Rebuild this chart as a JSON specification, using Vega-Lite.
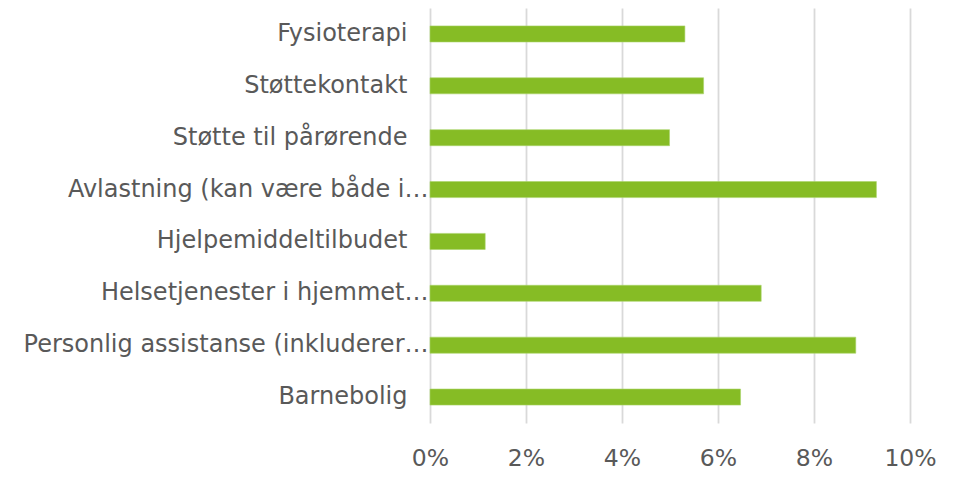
{
  "$schema": "https://vega.github.io/schema/vega-lite/v6.json",
  "width": 480,
  "height": 415,
  "autosize": {"type": "none"},
  "padding": {"left": 430, "top": 8, "right": 45, "bottom": 56},
  "background": "white",
  "config": {
    "view": {"stroke": null},
    "font": "DejaVu Sans"
  },
  "data": {
    "values": [
      {"kategori": "Fysioterapi", "andel": 0.0531},
      {"kategori": "Støttekontakt", "andel": 0.0570},
      {"kategori": "Støtte til pårørende", "andel": 0.0499},
      {"kategori": "Avlastning (kan være både i…", "andel": 0.0930},
      {"kategori": "Hjelpemiddeltilbudet", "andel": 0.0115},
      {"kategori": "Helsetjenester i hjemmet…", "andel": 0.0690},
      {"kategori": "Personlig assistanse (inkluderer…", "andel": 0.0887},
      {"kategori": "Barnebolig", "andel": 0.0647}
    ]
  },
  "mark": {"type": "bar", "color": "#86bc25", "stroke": "#a9d46a", "strokeWidth": 0.6},
  "encoding": {
    "y": {
      "field": "kategori",
      "type": "nominal",
      "sort": null,
      "scale": {"paddingInner": 0.69, "paddingOuter": 0.345},
      "axis": {
        "title": null,
        "domain": false,
        "ticks": false,
        "grid": false,
        "labelFont": "DejaVu Sans",
        "labelFontSize": 24,
        "labelColor": "#595959",
        "labelLimit": 500,
        "labelPadding": {"condition": {"test": "indexof(datum.value, '…') >= 0", "value": 2}, "value": 23}
      }
    },
    "x": {
      "field": "andel",
      "type": "quantitative",
      "scale": {"domain": [0, 0.1], "nice": false},
      "axis": {
        "title": null,
        "format": ".0%",
        "values": [0, 0.02, 0.04, 0.06, 0.08, 0.1],
        "domain": false,
        "ticks": false,
        "grid": true,
        "gridColor": "#d9d9d9",
        "gridWidth": 1.8,
        "labelFont": "DejaVu Sans",
        "labelFontSize": 23.5,
        "labelColor": "#595959",
        "labelPadding": 23,
        "labelFlush": false
      }
    }
  }
}
